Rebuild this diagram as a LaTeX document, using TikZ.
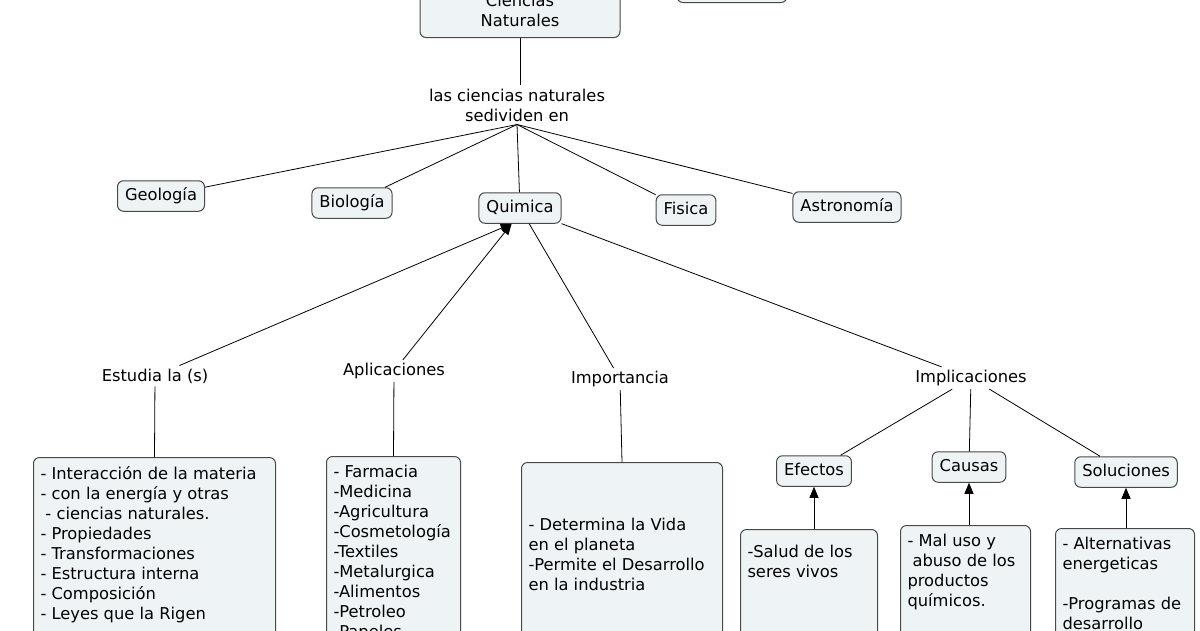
\documentclass[tikz,border=0pt]{standalone}
\usepackage{fontspec}
\setmainfont{DejaVu Sans}
\usetikzlibrary{arrows.meta}
\definecolor{boxfill}{HTML}{EEF4F6}
\definecolor{boxline}{HTML}{484848}
\newcommand{\mapfont}{\fontsize{16.3}{20}\selectfont}
\newcommand{\maplines}[1]{\begin{tabular}[t]{@{}l@{}}#1\end{tabular}}

\begin{document}
\begin{tikzpicture}[x=1pt,y=-1pt,
        boxstyle/.style = {draw=boxline, fill=boxfill, rounded corners=6pt, line width=1pt, font=\mapfont},
        concept/.style = {boxstyle, inner xsep=7.5pt, inner ysep=7.5pt, text height=12pt, text depth=3.5pt},
        listbox/.style = {boxstyle, inner xsep=7pt, inner ysep=7pt, anchor=north west},
        phrase/.style = {inner sep=3pt, font=\mapfont, align=center},
        link/.style = {line width=0.8pt},
        arrow/.style = {line width=0.8pt, -{Triangle[length=11pt,width=9pt]}}]
        \useasboundingbox (0,0) rectangle (1200,630);
        \clip (0,0) rectangle (1200,630);
        % top of the map
        \node[boxstyle, minimum width=200pt, align=center, inner ysep=11pt, anchor=south] (cn) at (520,38) {Ciencias\\Naturales};
        \node[boxstyle, minimum width=110pt, minimum height=40pt, anchor=south] (extra) at (732,3) {};
        \node[phrase] (divide) at (517,105) {las ciencias naturales\\sedividen en};
        % branches
        \node[concept] (geo) at (161,196) {Geología};
        \node[concept] (bio) at (352,203) {Biología};
        \node[concept] (qui) at (520,208) {Quimica};
        \node[concept] (fis) at (686,210) {Fisica};
        \node[concept] (astro) at (847,207) {Astronomía};
        % linking phrases of quimica
        \node[phrase] (estudia) at (155,376) {Estudia la (s)};
        \node[phrase] (aplic) at (394,371) {Aplicaciones};
        \node[phrase] (import) at (620,379) {Importancia};
        \node[phrase] (implic) at (971,378) {Implicaciones};
        \node[concept] (efectos) at (814,471) {Efectos};
        \node[concept] (causas) at (969,467) {Causas};
        \node[concept] (soluciones) at (1126,472) {Soluciones};
        % lists
        \node[listbox, inner ysep=8pt] (estbox) at (33,457) {\parbox[t][200pt][t]{228pt}{\maplines{- Interacción de la materia\\- con la energía y otras\\\hspace*{5pt}- ciencias naturales.\\- Propiedades\\- Transformaciones\\- Estructura interna\\- Composición\\- Leyes que la Rigen}}};
        \node[listbox] (aplbox) at (326,456) {\parbox[t][200pt][t]{120pt}{\maplines{- Farmacia\\-Medicina\\-Agricultura\\-Cosmetología\\-Textiles\\-Metalurgica\\-Alimentos\\-Petroleo\\-Papeles}}};
        \node[listbox, inner ysep=10pt] (impbox) at (521,462) {\parbox[t][167pt][c]{187pt}{\maplines{- Determina la Vida\\en el planeta\\-Permite el Desarrollo\\en la industria}}};
        \node[listbox, inner ysep=13.5pt] (efbox) at (740,529) {\parbox[t][200pt][t]{123pt}{\maplines{-Salud de los\\seres vivos}}};
        \node[listbox] (cabox) at (900,525) {\parbox[t][200pt][t]{116pt}{\maplines{- Mal uso y\\\hspace*{5pt}abuso de los\\productos\\químicos.}}};
        \node[listbox] (solbox) at (1055,528) {\parbox[t][200pt][t]{125pt}{\maplines{- Alternativas\\energeticas\\[20pt]-Programas de\\desarrollo}}};
        % connectors
        \draw[link] (cn.south) -- (cn.south |- divide.north);
        \foreach \n in {geo,bio,qui,fis,astro}
                \draw[link] (divide.south) -- (\n);
        \draw[arrow] (estudia) -- (qui.-118);
        \draw[arrow] (aplic) -- (qui.-118);
        \draw[link] (import) -- (qui);
        \draw[link] (implic) -- (qui);
        \draw[link] (estudia) -- (estbox.north);
        \draw[link] (aplic) -- (aplbox.north);
        \draw[link] (import) -- (impbox.north);
        \foreach \n in {efectos,causas,soluciones}
                \draw[link] (implic) -- (\n);
        \draw[arrow] (efbox.north -| efectos) -- (efectos);
        \draw[arrow] (cabox.north -| causas) -- (causas);
        \draw[arrow] (solbox.north -| soluciones) -- (soluciones);
\end{tikzpicture}
\end{document}
